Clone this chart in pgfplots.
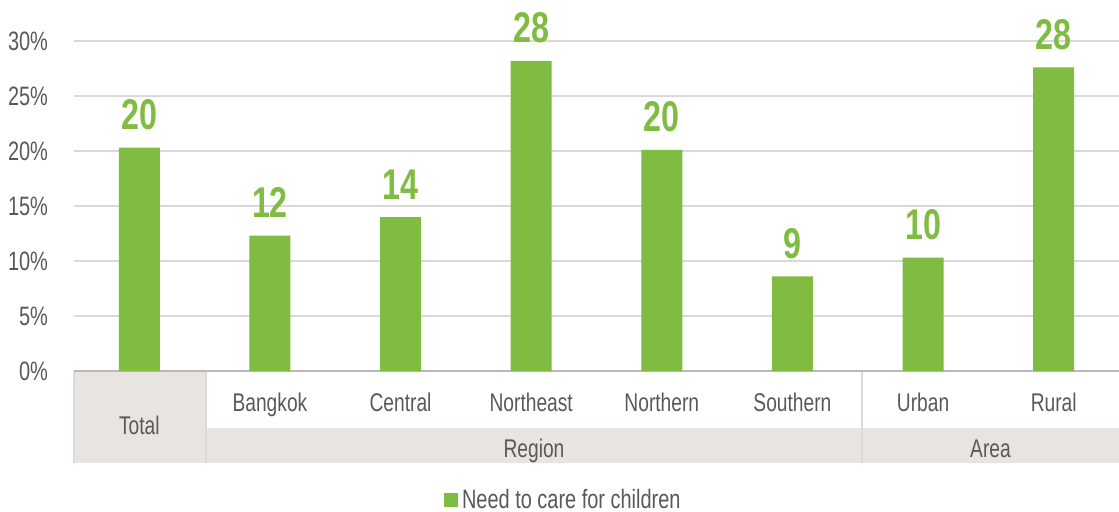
\documentclass[border=0pt]{standalone}
\usepackage{fontspec}
\setmainfont{Liberation Sans}[FakeStretch=0.75]
\usepackage{pgfplots}
\pgfplotsset{compat=1.18}
\definecolor{barcol}{HTML}{80BC41}
\definecolor{txt}{HTML}{595959}
\definecolor{cellgray}{HTML}{E8E5E1}
\definecolor{gridc}{HTML}{D9D9D9}
\begin{document}
\begin{tikzpicture}
\useasboundingbox (0,0) rectangle (559.5pt,-255.5pt);
% table decoration
\fill[cellgray] (37pt,-185.5pt) rectangle (103pt,-231.5pt);
\fill[cellgray] (103pt,-214pt) rectangle (559.5pt,-231.5pt);
\draw[gridc, line width=0.6pt] (37pt,-185.5pt) -- (37pt,-231.5pt);
\draw[gridc, line width=0.6pt] (103pt,-185.5pt) -- (103pt,-231.5pt);
\draw[gridc, line width=0.6pt] (431pt,-185.5pt) -- (431pt,-231.5pt);
\node[anchor=base, text=txt, font=\fontsize{12.8}{14}\selectfont] at (267pt,-228.5pt) {Region};
\node[anchor=base, text=txt, font=\fontsize{12.8}{14}\selectfont] at (495.25pt,-228.5pt) {Area};
\begin{axis}[
  at={(37pt,-185.5pt)}, anchor=south west,
  scale only axis, width=522.5pt, height=165pt,
  xmin=-0.5, xmax=7.5, ymin=0, ymax=30,
  ybar, bar width=20.5pt,
  axis x line*=bottom, axis y line*=left,
  x axis line style={draw=gray!55, line width=0.8pt, -},
  y axis line style={draw=none},
  xtick={1,...,7},
  xticklabels={Bangkok,Central,Northeast,Northern,Southern,Urban,Rural},
  extra x ticks={0}, extra x tick labels={Total},
  extra x tick style={xticklabel style={yshift=-11.5pt}},
  xticklabel style={anchor=base, yshift=-20pt, text=txt, font=\fontsize{12.8}{14}\selectfont},
  major tick length=0pt,
  ytick={0,5,...,30},
  yticklabel={\pgfmathprintnumber{\tick}\%},
  yticklabel style={anchor=east, xshift=-9.5pt, text=txt, font=\fontsize{13.3}{15}\selectfont},
  /pgf/number format/assume math mode=true,
  ymajorgrids, grid style={gridc, line width=0.7pt},
  nodes near coords={\pgfmathprintnumber[fixed,precision=0]{\pgfplotspointmeta}},
  every node near coord/.append style={anchor=base, yshift=9pt, text=barcol, font=\fontsize{21.5}{24}\selectfont\bfseries},
  legend style={at={(0.469,-0.391)}, anchor=center, draw=none, font=\fontsize{13.3}{15}\selectfont, text=txt,
    legend cell align=left, inner sep=0pt, nodes={inner xsep=2pt}},
  legend image code/.code={\fill[barcol] (0pt,-3.6pt) rectangle (7.2pt,3.6pt);},
  clip=false,
]
\addplot[fill=barcol, draw=none] coordinates {
(0,20.3) (1,12.3) (2,14.0) (3,28.2) (4,20.1) (5,8.6) (6,10.3) (7,27.6)};
\addlegendentry{Need to care for children}
\end{axis}
\end{tikzpicture}
\end{document}
